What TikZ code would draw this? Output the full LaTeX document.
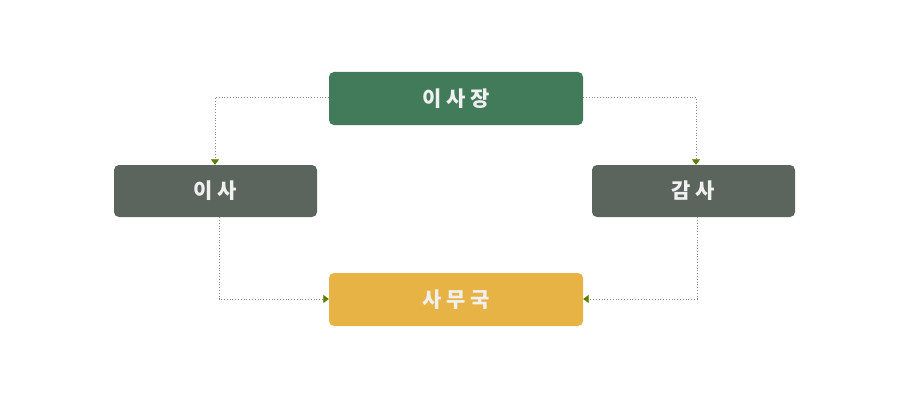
\documentclass[tikz,border=0pt]{standalone}
\usepackage{fontspec}
\newfontfamily\kr[LetterSpace=22]{Noto Sans CJK KR}
\usetikzlibrary{arrows.meta}
\definecolor{cgreen}{HTML}{417B5A}
\definecolor{cgray}{HTML}{5B655E}
\definecolor{cyellow}{HTML}{E8B345}
\definecolor{ctext}{HTML}{F0F0F0}
\definecolor{carrow}{HTML}{5E7D05}
\definecolor{cline}{HTML}{8A8A8A}
\begin{document}
\begin{tikzpicture}[x=1pt,y=-1pt,
  box/.style={rounded corners=5pt, inner sep=0pt, text=ctext, font=\kr\fontsize{21}{24}\selectfont},
  conn/.style={draw=cline, line width=0.8pt, dotted, -{Triangle[length=5.5pt,width=8pt,fill=carrow,color=carrow]}}]
\useasboundingbox (0,0) rectangle (909,409);
\node[box, fill=cgreen, minimum width=254pt, minimum height=53pt] (top) at (456,98.5) {\bfseries 이사장};
\node[box, fill=cgray, minimum width=203pt, minimum height=52pt] (left) at (215.5,191) {\bfseries 이사};
\node[box, fill=cgray, minimum width=203pt, minimum height=52pt] (right) at (693.5,191) {\bfseries 감사};
\node[box, fill=cyellow, minimum width=254pt, minimum height=53pt] (bot) at (456,299.5) {\bfseries 사무국};
\draw[conn] (top.west |- 0,97) -| ([xshift=-0.5pt]left.north);
\draw[conn] (top.east |- 0,97) -| ([xshift=2.5pt]right.north);
\draw[conn] ([xshift=3.5pt]left.south) |- (bot.west |- 0,299);
\draw[conn] ([xshift=3.5pt]right.south) |- (bot.east |- 0,299);
\end{tikzpicture}
\end{document}
